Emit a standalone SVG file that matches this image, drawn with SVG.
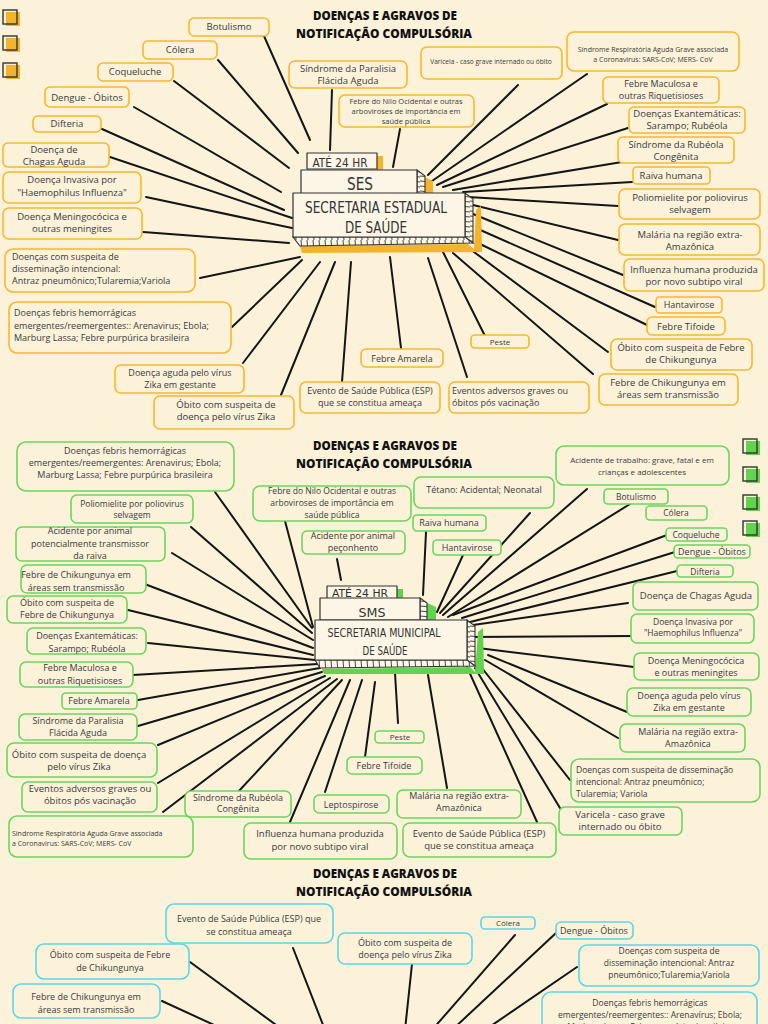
<svg xmlns="http://www.w3.org/2000/svg" width="768" height="1024" viewBox="0 0 768 1024">
<defs>
<style>
.bg{fill:#FCF2DA}
.n rect{fill:#FCF2DA;stroke-width:1.6}
.o rect{stroke:#F5B82E}
.g rect{stroke:#6BD65B}
.c rect{stroke:#5CD6E6}
text{font-family:"Open Sans","Noto Sans",sans-serif;fill:#3a3a3a;font-size:9px}
.m{text-anchor:middle}
.s66{font-size:6.6px}
.s7{font-size:7px}
.s75{font-size:7.5px}
.s8{font-size:8px}
.s85{font-size:8.5px}
.s95{font-size:9.5px}
.t{font-family:"Open Sans",sans-serif;font-weight:800;font-size:13px;fill:#111;text-anchor:middle}
.h{font-family:"DejaVu Sans Condensed","Liberation Sans",sans-serif;fill:#333;text-anchor:middle}
.conn line{stroke:#151515;stroke-width:2;stroke-linecap:round}
.box{fill:#FDF6E6;stroke:#333;stroke-width:1.2;stroke-linejoin:round}
.vh{fill:url(#vh);stroke:#333;stroke-width:1.1}
.hh{fill:url(#hh);stroke:#333;stroke-width:1.1}
.sqo{fill:#F2B42C}
.sqg{fill:#62D34E}
.sqe{fill:none;stroke:#333;stroke-width:1.4}
</style>
<pattern id="vh" patternUnits="userSpaceOnUse" width="6" height="12">
<rect width="6" height="12" fill="#FDF6E6"/>
<line x1="1" y1="0" x2="2" y2="12" stroke="#333" stroke-width="0.9"/>
</pattern>
<pattern id="hh" patternUnits="userSpaceOnUse" width="10" height="5">
<rect width="10" height="5" fill="#FDF6E6"/>
<line x1="0" y1="1" x2="10" y2="2" stroke="#333" stroke-width="0.9"/>
</pattern>
</defs>
<rect class="bg" x="0" y="0" width="768" height="1024"/>

<!-- decorative squares -->
<g id="squares">
<rect class="sqo" x="6" y="12" width="14" height="14"/><rect class="sqe" x="3" y="10" width="14" height="14"/>
<rect class="sqo" x="6" y="38" width="14" height="14"/><rect class="sqe" x="3" y="36" width="14" height="14"/>
<rect class="sqo" x="6" y="65" width="14" height="14"/><rect class="sqe" x="3" y="63" width="14" height="14"/>
<rect class="sqg" x="746" y="441" width="14" height="14"/><rect class="sqe" x="743" y="439" width="14" height="14"/>
<rect class="sqg" x="746" y="469" width="14" height="14"/><rect class="sqe" x="743" y="467" width="14" height="14"/>
<rect class="sqg" x="746" y="497" width="14" height="14"/><rect class="sqe" x="743" y="495" width="14" height="14"/>
<rect class="sqg" x="746" y="523" width="14" height="14"/><rect class="sqe" x="743" y="521" width="14" height="14"/>
</g>

<!-- titles -->
<g id="titles">
<text class="t" x="385" y="20" textLength="144" lengthAdjust="spacingAndGlyphs">DOENÇAS E AGRAVOS DE</text>
<text class="t" x="384" y="38" textLength="176" lengthAdjust="spacingAndGlyphs">NOTIFICAÇÃO COMPULSÓRIA</text>
<text class="t" x="385" y="450" textLength="144" lengthAdjust="spacingAndGlyphs">DOENÇAS E AGRAVOS DE</text>
<text class="t" x="384" y="468" textLength="176" lengthAdjust="spacingAndGlyphs">NOTIFICAÇÃO COMPULSÓRIA</text>
<text class="t" x="385" y="878" textLength="144" lengthAdjust="spacingAndGlyphs">DOENÇAS E AGRAVOS DE</text>
<text class="t" x="384" y="896" textLength="176" lengthAdjust="spacingAndGlyphs">NOTIFICAÇÃO COMPULSÓRIA</text>
</g>

<!-- connectors -->
<g id="connectors" class="conn">
<line x1="264" y1="36" x2="310" y2="140"/>
<line x1="218" y1="60" x2="298" y2="153"/>
<line x1="174" y1="81" x2="289" y2="168"/>
<line x1="134" y1="107" x2="281" y2="192"/>
<line x1="102" y1="129" x2="284" y2="210"/>
<line x1="110" y1="157" x2="292" y2="218"/>
<line x1="146" y1="197" x2="292" y2="228"/>
<line x1="143" y1="232" x2="289" y2="243"/>
<line x1="200" y1="278" x2="300" y2="257"/>
<line x1="232" y1="327" x2="302" y2="260"/>
<line x1="243" y1="363" x2="320" y2="262"/>
<line x1="281" y1="395" x2="335" y2="262"/>
<line x1="342" y1="382" x2="351" y2="262"/>
<line x1="401" y1="348" x2="390" y2="257"/>
<line x1="467" y1="377" x2="428" y2="258"/>
<line x1="485" y1="336" x2="443" y2="252"/>
<line x1="593" y1="374" x2="453" y2="253"/>
<line x1="608" y1="352" x2="470" y2="249"/>
<line x1="647" y1="325" x2="478" y2="243"/>
<line x1="655" y1="307" x2="478" y2="229"/>
<line x1="623" y1="275" x2="473" y2="214"/>
<line x1="618" y1="240" x2="473" y2="205"/>
<line x1="618" y1="206" x2="468" y2="197"/>
<line x1="632" y1="182" x2="463" y2="192"/>
<line x1="622" y1="162" x2="453" y2="190"/>
<line x1="628" y1="128" x2="443" y2="187"/>
<line x1="607" y1="104" x2="437" y2="185"/>
<line x1="587" y1="74" x2="432" y2="181"/>
<line x1="518" y1="85" x2="428" y2="175"/>
<line x1="400" y1="129" x2="393" y2="167"/>
<line x1="332" y1="90" x2="330" y2="150"/>

<line x1="285" y1="521" x2="313" y2="627"/>
<line x1="215" y1="492" x2="312" y2="628"/>
<line x1="191" y1="527" x2="312" y2="633"/>
<line x1="172" y1="553" x2="313" y2="640"/>
<line x1="142" y1="583" x2="313" y2="648"/>
<line x1="128" y1="610" x2="313" y2="655"/>
<line x1="148" y1="643" x2="315" y2="660"/>
<line x1="133" y1="675" x2="318" y2="664"/>
<line x1="138" y1="700" x2="320" y2="668"/>
<line x1="138" y1="726" x2="322" y2="672"/>
<line x1="158" y1="745" x2="325" y2="676"/>
<line x1="158" y1="783" x2="330" y2="678"/>
<line x1="163" y1="812" x2="337" y2="679"/>
<line x1="238" y1="792" x2="342" y2="680"/>
<line x1="290" y1="822" x2="350" y2="680"/>
<line x1="325" y1="792" x2="362" y2="680"/>
<line x1="365" y1="757" x2="375" y2="682"/>
<line x1="398" y1="723" x2="395" y2="673"/>
<line x1="447" y1="788" x2="428" y2="675"/>
<line x1="537" y1="822" x2="467" y2="667"/>
<line x1="560" y1="808" x2="475" y2="668"/>
<line x1="570" y1="780" x2="478" y2="663"/>
<line x1="618" y1="738" x2="485" y2="660"/>
<line x1="627" y1="712" x2="488" y2="655"/>
<line x1="634" y1="667" x2="478" y2="648"/>
<line x1="635" y1="636" x2="470" y2="637"/>
<line x1="628" y1="603" x2="473" y2="625"/>
<line x1="677" y1="571" x2="470" y2="622"/>
<line x1="675" y1="552" x2="462" y2="618"/>
<line x1="667" y1="535" x2="453" y2="615"/>
<line x1="630" y1="504" x2="448" y2="617"/>
<line x1="587" y1="489" x2="443" y2="615"/>
<line x1="530" y1="513" x2="440" y2="613"/>
<line x1="463" y1="555" x2="437" y2="612"/>
<line x1="426" y1="532" x2="423" y2="595"/>
<line x1="337" y1="559" x2="341" y2="580"/>

<line x1="293" y1="948" x2="325" y2="1030"/>
<line x1="190" y1="962" x2="283" y2="1030"/>
<line x1="162" y1="1001" x2="225" y2="1030"/>
<line x1="412" y1="964" x2="405" y2="1030"/>
<line x1="515" y1="935" x2="432" y2="1030"/>
<line x1="556" y1="933" x2="452" y2="1030"/>
<line x1="577" y1="967" x2="485" y2="1030"/>
</g>

<!-- central node SES -->
<g id="ses">
<rect x="377" y="156" width="6" height="15" fill="#F2B42C"/>
<rect class="box" x="307" y="153" width="70" height="16"/>
<text class="h" x="340" y="167" style="font-size:12px" textLength="55" lengthAdjust="spacingAndGlyphs">ATÉ 24 HR</text>
<polygon points="420,175 433,181 433,200 420,200" fill="#F2B42C"/>
<polygon class="hh" points="417,170 425,176 425,197 417,197"/>
<rect class="box" x="301" y="170" width="116" height="27"/>
<text class="h" x="360" y="190" style="font-size:17px" textLength="26" lengthAdjust="spacingAndGlyphs">SES</text>
<polygon points="300,246 468,244 474,249 476,210 481,206 482,252 302,253" fill="#F2B42C"/>
<polygon class="hh" points="465,193 473,199 473,243 465,237"/>
<polygon class="vh" points="293,237 465,237 473,243 300,246"/>
<rect class="box" x="293" y="193" width="172" height="44"/>
<text class="h" x="376" y="213" style="font-size:16px" textLength="142" lengthAdjust="spacingAndGlyphs">SECRETARIA ESTADUAL</text>
<text class="h" x="376" y="233" style="font-size:16px" textLength="62" lengthAdjust="spacingAndGlyphs">DE SAÚDE</text>
</g>

<!-- central node SMS -->
<g id="sms">
<rect x="397" y="589" width="6" height="12" fill="#62D34E"/>
<rect class="box" x="327" y="586" width="70" height="13"/>
<text class="h" x="360" y="597" style="font-size:11px" textLength="56" lengthAdjust="spacingAndGlyphs">ATÉ 24 HR</text>
<polygon points="427,603 436,607 436,622 427,622" fill="#62D34E"/>
<polygon class="hh" points="420,598 427,603 427,620 420,620"/>
<rect class="box" x="320" y="598" width="100" height="22"/>
<text class="h" x="372" y="617" style="font-size:13px" textLength="27" lengthAdjust="spacingAndGlyphs">SMS</text>
<polygon points="322,669 470,667 475,672 478,632 483,628 484,674 324,674" fill="#62D34E"/>
<polygon class="hh" points="467,620 475,626 475,666 467,660"/>
<polygon class="vh" points="315,660 467,660 475,666 320,668"/>
<rect class="box" x="315" y="620" width="152" height="40"/>
<text class="h" x="384" y="637" style="font-size:12.5px" textLength="113" lengthAdjust="spacingAndGlyphs">SECRETARIA MUNICIPAL</text>
<text class="h" x="385" y="655" style="font-size:12.5px" textLength="45" lengthAdjust="spacingAndGlyphs">DE SAÚDE</text>
</g>

<!-- section 1 nodes (orange) -->
<g id="o-botulismo" class="n o"><rect x="189" y="18" width="80" height="18" rx="5"/><text class="m s95" x="229" y="30">Botulismo</text></g>
<g id="o-colera" class="n o"><rect x="143" y="41" width="74" height="18" rx="5"/><text class="m s95" x="180" y="53">Cólera</text></g>
<g id="o-coqueluche" class="n o"><rect x="98" y="63" width="75" height="18" rx="5"/><text class="m s95" x="135" y="75">Coqueluche</text></g>
<g id="o-dengue" class="n o"><rect x="45" y="87" width="84" height="20" rx="5"/><text class="m s95" x="87" y="101">Dengue - Óbitos</text></g>
<g id="o-difteria" class="n o"><rect x="33" y="116" width="68" height="16" rx="5"/><text class="m s95" x="67" y="127">Difteria</text></g>
<g id="o-chagas" class="n o"><rect x="3" y="143" width="106" height="24" rx="5"/><text class="m s95"><tspan x="54" y="153">Doença de</tspan><tspan x="54" y="165">Chagas Aguda</tspan></text></g>
<g id="o-haemophilus" class="n o"><rect x="3" y="172" width="138" height="31" rx="6"/><text class="m s95"><tspan x="72" y="183">Doença Invasiva por</tspan><tspan x="72" y="196">"Haemophilus Influenza"</tspan></text></g>
<g id="o-meningo" class="n o"><rect x="3" y="208" width="139" height="31" rx="6"/><text class="m s95"><tspan x="72" y="220">Doença Meningocócica e</tspan><tspan x="72" y="232">outras meningites</tspan></text></g>
<g id="o-dissem" class="n o"><rect x="5" y="249" width="190" height="43" rx="8"/><text><tspan x="12" y="260">Doenças com suspeita de</tspan><tspan x="12" y="272">disseminação intencional:</tspan><tspan x="12" y="284">Antraz pneumônico;Tularemia;Variola</tspan></text></g>
<g id="o-hemorr" class="n o"><rect x="9" y="302" width="222" height="51" rx="8"/><text><tspan x="14" y="316">Doenças febris hemorrágicas</tspan><tspan x="14" y="329">emergentes/reemergentes:: Arenavirus; Ebola;</tspan><tspan x="14" y="341">Marburg Lassa; Febre purpúrica brasileira</tspan></text></g>
<g id="o-zikag" class="n o"><rect x="115" y="365" width="129" height="28" rx="6"/><text class="m"><tspan x="180" y="376">Doença aguda pelo vírus</tspan><tspan x="180" y="388">Zika em gestante</tspan></text></g>
<g id="o-zikao" class="n o"><rect x="154" y="396" width="140" height="33" rx="6"/><text class="m s95"><tspan x="226" y="408">Óbito com suspeita de</tspan><tspan x="226" y="420">doença pelo vírus Zika</tspan></text></g>
<g id="o-esp" class="n o"><rect x="300" y="382" width="140" height="31" rx="6"/><text class="m"><tspan x="370" y="394">Evento de Saúde Pública (ESP)</tspan><tspan x="370" y="406">que se constitua ameaça</tspan></text></g>
<g id="o-eventos" class="n o"><rect x="449" y="382" width="140" height="31" rx="6"/><text><tspan x="452" y="394">Eventos adversos graves ou</tspan><tspan x="452" y="406">óbitos pós vacinação</tspan></text></g>
<g id="o-amarela" class="n o"><rect x="361" y="349" width="82" height="18" rx="5"/><text class="m" x="402" y="362">Febre Amarela</text></g>
<g id="o-peste" class="n o"><rect x="471" y="335" width="58" height="13" rx="4"/><text class="m s8" x="500" y="345">Peste</text></g>
<g id="o-chikareas" class="n o"><rect x="599" y="374" width="139" height="31" rx="6"/><text class="m s95"><tspan x="668" y="386">Febre de Chikungunya em</tspan><tspan x="668" y="398">áreas sem transmissão</tspan></text></g>
<g id="o-chikobito" class="n o"><rect x="611" y="339" width="141" height="31" rx="6"/><text class="m s95"><tspan x="681" y="351">Óbito com suspeita de Febre</tspan><tspan x="681" y="363">de Chikungunya</tspan></text></g>
<g id="o-tifoide" class="n o"><rect x="647" y="317" width="78" height="18" rx="5"/><text class="m s95" x="686" y="330">Febre Tifoide</text></g>
<g id="o-hanta" class="n o"><rect x="656" y="297" width="66" height="16" rx="4"/><text class="m" x="689" y="308">Hantavirose</text></g>
<g id="o-influenza" class="n o"><rect x="624" y="259" width="140" height="32" rx="6"/><text class="m s95"><tspan x="694" y="273">Influenza humana produzida</tspan><tspan x="694" y="285">por novo subtipo viral</tspan></text></g>
<g id="o-malaria" class="n o"><rect x="619" y="224" width="141" height="31" rx="6"/><text class="m s95"><tspan x="690" y="238">Malária na região extra-</tspan><tspan x="690" y="250">Amazônica</tspan></text></g>
<g id="o-polio" class="n o"><rect x="619" y="189" width="141" height="30" rx="6"/><text class="m s95"><tspan x="690" y="201">Poliomielite por poliovirus</tspan><tspan x="690" y="213">selvagem</tspan></text></g>
<g id="o-raiva" class="n o"><rect x="633" y="167" width="77" height="17" rx="4"/><text class="m s95" x="671" y="179">Raiva humana</text></g>
<g id="o-rubeolac" class="n o"><rect x="618" y="137" width="116" height="26" rx="5"/><text class="m s95"><tspan x="676" y="148">Síndrome da Rubéola</tspan><tspan x="676" y="160">Congênita</tspan></text></g>
<g id="o-exant" class="n o"><rect x="629" y="107" width="116" height="26" rx="5"/><text class="m s95"><tspan x="687" y="117">Doenças Exantemáticas:</tspan><tspan x="687" y="129">Sarampo; Rubéola</tspan></text></g>
<g id="o-maculosa" class="n o"><rect x="603" y="77" width="116" height="26" rx="5"/><text class="m"><tspan x="661" y="87">Febre Maculosa e</tspan><tspan x="661" y="99">outras Riquetisioses</tspan></text></g>
<g id="o-srag" class="n o"><rect x="567" y="32" width="172" height="39" rx="7"/><text class="m s7"><tspan x="653" y="52">Síndrome Respiratória Aguda Grave associada</tspan><tspan x="653" y="62">a Coronavirus: SARS-CoV; MERS- CoV</tspan></text></g>
<g id="o-varicela" class="n o"><rect x="421" y="47" width="141" height="32" rx="6"/><text class="m s66" x="491" y="64">Varicela - caso grave internado ou óbito</text></g>
<g id="o-nilo" class="n o"><rect x="339" y="95" width="135" height="32" rx="6"/><text class="m s75"><tspan x="406" y="104">Febre do Nilo Ocidental e outras</tspan><tspan x="406" y="114">arboviroses de importância em</tspan><tspan x="406" y="124">saúde pública</tspan></text></g>
<g id="o-paralisia" class="n o"><rect x="289" y="61" width="118" height="27" rx="6"/><text class="m s95"><tspan x="348" y="72">Síndrome da Paralisia</tspan><tspan x="348" y="84">Flácida Aguda</tspan></text></g>

<!-- section 2 nodes (green) -->
<g id="g-hemorr" class="n g"><rect x="17" y="442" width="217" height="49" rx="9"/><text class="m"><tspan x="125" y="454">Doenças febris hemorrágicas</tspan><tspan x="125" y="466">emergentes/reemergentes: Arenavirus; Ebola;</tspan><tspan x="125" y="478">Marburg Lassa; Febre purpúrica brasileira</tspan></text></g>
<g id="g-polio" class="n g"><rect x="71" y="495" width="122" height="28" rx="6"/><text class="m s85"><tspan x="132" y="507">Poliomielite por poliovirus</tspan><tspan x="132" y="518">selvagem</tspan></text></g>
<g id="g-acidraiva" class="n g"><rect x="16" y="527" width="149" height="34" rx="6"/><text class="m"><tspan x="90" y="534">Acidente por animal</tspan><tspan x="90" y="547">potencialmente transmissor</tspan><tspan x="90" y="559">da raiva</tspan></text></g>
<g id="g-chikareas" class="n g"><rect x="21" y="565" width="125" height="28" rx="6"/><text class="m"><tspan x="76" y="578">Febre de Chikungunya em</tspan><tspan x="76" y="591">áreas sem transmissão</tspan></text></g>
<g id="g-chikobito" class="n g"><rect x="7" y="596" width="120" height="27" rx="6"/><text class="m"><tspan x="67" y="606">Óbito com suspeita de</tspan><tspan x="67" y="618">Febre de Chikungunya</tspan></text></g>
<g id="g-exant" class="n g"><rect x="27" y="628" width="119" height="26" rx="6"/><text class="m"><tspan x="87" y="639">Doenças Exantemáticas:</tspan><tspan x="87" y="652">Sarampo; Rubéola</tspan></text></g>
<g id="g-maculosa" class="n g"><rect x="20" y="662" width="113" height="25" rx="6"/><text class="m"><tspan x="80" y="671">Febre Maculosa e</tspan><tspan x="80" y="684">outras Riquetisioses</tspan></text></g>
<g id="g-amarela" class="n g"><rect x="62" y="693" width="75" height="16" rx="4"/><text class="m" x="99" y="704">Febre Amarela</text></g>
<g id="g-paralisia" class="n g"><rect x="19" y="714" width="118" height="26" rx="6"/><text class="m"><tspan x="78" y="724">Síndrome da Paralisia</tspan><tspan x="78" y="736">Flácida Aguda</tspan></text></g>
<g id="g-zikao" class="n g"><rect x="7" y="743" width="150" height="34" rx="7"/><text class="m s95"><tspan x="79" y="758">Óbito com suspeita de doença</tspan><tspan x="79" y="770">pelo vírus Zika</tspan></text></g>
<g id="g-eventos" class="n g"><rect x="22" y="782" width="135" height="30" rx="6"/><text class="m s95"><tspan x="90" y="792">Eventos adversos graves ou</tspan><tspan x="90" y="804">óbitos pós vacinação</tspan></text></g>
<g id="g-srag" class="n g"><rect x="9" y="816" width="184" height="41" rx="8"/><text class="s7"><tspan x="12" y="836">Síndrome Respiratória Aguda Grave associada</tspan><tspan x="12" y="846">a Coronavirus: SARS-CoV; MERS- CoV</tspan></text></g>
<g id="g-rubeolac" class="n g"><rect x="185" y="791" width="106" height="26" rx="6"/><text class="m"><tspan x="238" y="801">Síndrome da Rubéola</tspan><tspan x="238" y="812">Congênita</tspan></text></g>
<g id="g-influenza" class="n g"><rect x="244" y="823" width="153" height="36" rx="7"/><text class="m s95"><tspan x="320" y="837">Influenza humana produzida</tspan><tspan x="320" y="850">por novo subtipo viral</tspan></text></g>
<g id="g-lepto" class="n g"><rect x="314" y="795" width="75" height="18" rx="5"/><text class="m" x="351" y="808">Leptospirose</text></g>
<g id="g-tifoide" class="n g"><rect x="347" y="757" width="75" height="17" rx="5"/><text class="m" x="384" y="769">Febre Tifoide</text></g>
<g id="g-peste" class="n g"><rect x="375" y="731" width="49" height="12" rx="4"/><text class="m s8" x="400" y="740">Peste</text></g>
<g id="g-malariab" class="n g"><rect x="397" y="790" width="124" height="28" rx="6"/><text class="m"><tspan x="459" y="799">Malária na região extra-</tspan><tspan x="459" y="811">Amazônica</tspan></text></g>
<g id="g-esp" class="n g"><rect x="403" y="823" width="153" height="34" rx="7"/><text class="m s95"><tspan x="479" y="837">Evento de Saúde Pública (ESP)</tspan><tspan x="479" y="849">que se constitua ameaça</tspan></text></g>
<g id="g-varicela" class="n g"><rect x="559" y="807" width="123" height="28" rx="6"/><text class="m s95"><tspan x="620" y="818">Varicela - caso grave</tspan><tspan x="620" y="830">internado ou óbito</tspan></text></g>
<g id="g-dissem" class="n g"><rect x="571" y="759" width="189" height="43" rx="8"/><text class="s85"><tspan x="576" y="773">Doenças com suspeita de disseminação</tspan><tspan x="576" y="785">intencional: Antraz pneumônico;</tspan><tspan x="576" y="797">Tularemia; Variola</tspan></text></g>
<g id="g-malariar" class="n g"><rect x="620" y="724" width="125" height="28" rx="6"/><text class="m"><tspan x="688" y="735">Malária na região extra-</tspan><tspan x="688" y="747">Amazônica</tspan></text></g>
<g id="g-zikag" class="n g"><rect x="627" y="688" width="124" height="28" rx="6"/><text class="m"><tspan x="689" y="699">Doença aguda pelo vírus</tspan><tspan x="689" y="711">Zika em gestante</tspan></text></g>
<g id="g-meningo" class="n g"><rect x="634" y="653" width="125" height="27" rx="6"/><text class="m"><tspan x="696" y="664">Doença Meningocócica</tspan><tspan x="696" y="676">e outras meningites</tspan></text></g>
<g id="g-haemophilus" class="n g"><rect x="631" y="614" width="123" height="29" rx="6"/><text class="m s85"><tspan x="693" y="625">Doença Invasiva por</tspan><tspan x="693" y="636">"Haemophilus Influenza"</tspan></text></g>
<g id="g-chagas" class="n g"><rect x="633" y="582" width="125" height="28" rx="6"/><text class="m s95" x="696" y="599">Doença de Chagas Aguda</text></g>
<g id="g-difteria" class="n g"><rect x="677" y="565" width="56" height="12" rx="4"/><text class="m s85" x="705" y="575">Difteria</text></g>
<g id="g-dengue" class="n g"><rect x="674" y="545" width="76" height="13" rx="4"/><text class="m" x="712" y="555">Dengue - Óbitos</text></g>
<g id="g-coqueluche" class="n g"><rect x="666" y="528" width="61" height="13" rx="4"/><text class="m s85" x="696" y="538">Coqueluche</text></g>
<g id="g-colera" class="n g"><rect x="646" y="506" width="61" height="14" rx="4"/><text class="m s85" x="676" y="516">Cólera</text></g>
<g id="g-botulismo" class="n g"><rect x="604" y="489" width="64" height="15" rx="4"/><text class="m s85" x="636" y="500">Botulismo</text></g>
<g id="g-trabalho" class="n g"><rect x="556" y="446" width="173" height="39" rx="8"/><text class="m s8"><tspan x="642" y="463">Acidente de trabalho: grave, fatal e em</tspan><tspan x="642" y="475">crianças e adolescentes</tspan></text></g>
<g id="g-tetano" class="n g"><rect x="414" y="477" width="140" height="31" rx="7"/><text class="m" x="484" y="493">Tétano: Acidental; Neonatal</text></g>
<g id="g-raiva" class="n g"><rect x="413" y="515" width="73" height="16" rx="4"/><text class="m" x="449" y="526">Raiva humana</text></g>
<g id="g-hanta" class="n g"><rect x="433" y="540" width="68" height="15" rx="4"/><text class="m" x="467" y="551">Hantavirose</text></g>
<g id="g-peconhento" class="n g"><rect x="302" y="531" width="103" height="23" rx="5"/><text class="m"><tspan x="353" y="539">Acidente por animal</tspan><tspan x="353" y="551">peçonhento</tspan></text></g>
<g id="g-nilo" class="n g"><rect x="253" y="486" width="158" height="35" rx="7"/><text class="m s85"><tspan x="332" y="494">Febre do Nilo Ocidental e outras</tspan><tspan x="332" y="506">arboviroses de importância em</tspan><tspan x="332" y="518">saúde pública</tspan></text></g>

<!-- section 3 nodes (cyan) -->
<g id="c-esp" class="n c"><rect x="166" y="904" width="167" height="39" rx="8"/><text class="m"><tspan x="249" y="922">Evento de Saúde Pública (ESP) que</tspan><tspan x="249" y="935">se constitua ameaça</tspan></text></g>
<g id="c-chikobito" class="n c"><rect x="36" y="944" width="153" height="35" rx="8"/><text class="m"><tspan x="110" y="958">Óbito com suspeita de Febre</tspan><tspan x="110" y="971">de Chikungunya</tspan></text></g>
<g id="c-chikareas" class="n c"><rect x="13" y="984" width="147" height="34" rx="8"/><text class="m"><tspan x="86" y="1000">Febre de Chikungunya em</tspan><tspan x="86" y="1013">áreas sem transmissão</tspan></text></g>
<g id="c-zikao" class="n c"><rect x="338" y="933" width="134" height="31" rx="7"/><text class="m"><tspan x="405" y="946">Óbito com suspeita de</tspan><tspan x="405" y="958">doença pelo vírus Zika</tspan></text></g>
<g id="c-colera" class="n c"><rect x="481" y="917" width="54" height="12" rx="4"/><text class="m s8" x="508" y="926">Cólera</text></g>
<g id="c-dengue" class="n c"><rect x="556" y="922" width="77" height="17" rx="5"/><text class="m" x="594" y="934">Dengue - Óbitos</text></g>
<g id="c-dissem" class="n c"><rect x="579" y="945" width="180" height="41" rx="8"/><text class="m s85"><tspan x="669" y="954">Doenças com suspeita de</tspan><tspan x="669" y="966">disseminação intencional: Antraz</tspan><tspan x="669" y="978">pneumônico;Tularemia;Variola</tspan></text></g>
<g id="c-hemorr" class="n c"><rect x="542" y="992" width="215" height="48" rx="9"/><text class="m s85"><tspan x="650" y="1006">Doenças febris hemorrágicas</tspan><tspan x="650" y="1018">emergentes/reemergentes:: Arenavírus; Ebola;</tspan><tspan x="650" y="1030">Marburg Lassa; Febre purpúrica brasileira</tspan></text></g>
</svg>
